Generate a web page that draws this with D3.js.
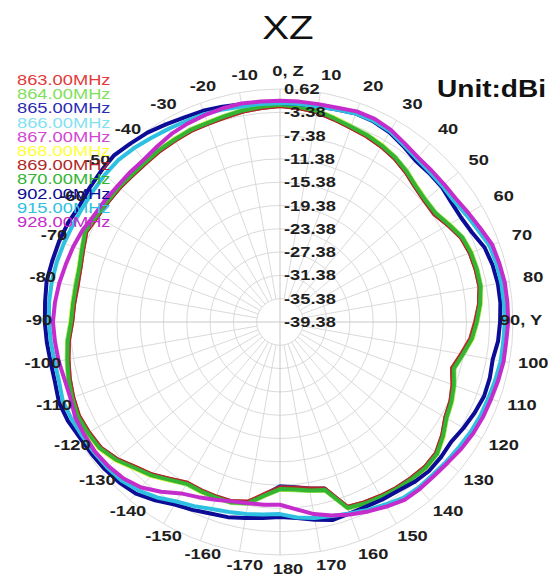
<!DOCTYPE html>
<html>
<head>
<meta charset="utf-8">
<script src="https://cdn.jsdelivr.net/npm/d3@7"></script>
<style>
  body { margin: 0; background: #fff; }
  text { font-family: "Liberation Sans", Arial, sans-serif; }
</style>
</head>
<body>
<div id="chart"></div>
<script>
// angles (deg, 0 = Z at top, clockwise) shared by every trace
var angles = d3.range(-180, 180, 5);

var freqs = ["863.00MHz", "864.00MHz", "865.00MHz", "866.00MHz", "867.00MHz", "868.00MHz",
             "869.00MHz", "870.00MHz", "902.00MHz", "915.00MHz", "928.00MHz"];
var colors = ["#e23a3a", "#7fe05c", "#2c2cb0", "#84e2f0", "#d247d2", "#ffff3c",
              "#b02828", "#33b533", "#0c0c96", "#2ec0e0", "#c42ccc"];

// gain in dBi, one value per angle
var g863 = [-11.0,-9.8,-8.0,-7.5,-7.4,-7.4,-7.5,-6.5,-5.2,-4.2,-2.8,-1.8,-1.5,-1.3,-1.6,-2.0,-2.5,-3.0,-3.7,-3.9,-4.0,-3.9,-3.4,-2.7,-3.2,-3.3,-3.5,-3.6,-3.6,-3.5,-3.3,-3.2,-3.1,-3.0,-2.7,-2.5,-2.3,-2.5,-2.8,-3.4,-3.9,-4.2,-4.6,-5.1,-5.8,-6.6,-7.0,-7.0,-6.1,-5.1,-4.7,-4.6,-4.6,-5.1,-5.9,-6.6,-7.8,-8.8,-7.9,-7.1,-6.6,-5.4,-4.4,-4.2,-4.4,-4.6,-4.9,-5.2,-5.6,-9.7,-10.4,-10.9];
var g864 = [-10.6,-9.4,-7.7,-7.2,-7.2,-7.2,-7.2,-6.2,-4.9,-3.9,-2.5,-1.5,-1.2,-1.0,-1.3,-1.7,-2.2,-2.7,-3.4,-3.6,-3.7,-3.6,-3.1,-2.4,-2.9,-3.1,-3.2,-3.4,-3.4,-3.2,-3.1,-2.9,-2.9,-2.7,-2.4,-2.2,-2.0,-2.2,-2.5,-3.1,-3.6,-3.9,-4.3,-4.8,-5.5,-6.3,-6.7,-6.7,-5.8,-4.8,-4.4,-4.3,-4.3,-4.8,-5.5,-6.2,-7.4,-8.4,-7.5,-6.8,-6.3,-5.1,-4.1,-3.9,-4.1,-4.3,-4.6,-4.9,-5.3,-9.4,-9.9,-10.4];
var g865 = [-11.2,-9.6,-7.9,-7.4,-7.2,-7.3,-7.4,-6.4,-5.1,-4.1,-2.7,-1.7,-1.4,-1.2,-1.5,-1.9,-2.4,-2.9,-3.6,-3.8,-3.9,-3.8,-3.3,-2.6,-3.1,-3.3,-3.4,-3.6,-3.6,-3.4,-3.3,-3.1,-3.1,-2.9,-2.6,-2.4,-2.2,-2.4,-2.7,-3.3,-3.8,-4.1,-4.5,-5.0,-5.7,-6.5,-6.9,-6.9,-6.0,-5.0,-4.6,-4.5,-4.5,-5.0,-5.7,-6.4,-7.6,-8.6,-7.7,-7.0,-6.5,-5.3,-4.3,-4.1,-4.3,-4.5,-4.8,-5.1,-5.5,-9.8,-10.3,-10.9];
var g866 = [-10.8,-9.6,-7.8,-7.3,-7.4,-7.3,-7.3,-6.3,-5.0,-4.0,-2.6,-1.7,-1.4,-1.2,-1.4,-1.8,-2.3,-2.9,-3.5,-3.7,-3.9,-3.7,-3.3,-2.6,-3.0,-3.2,-3.4,-3.5,-3.5,-3.4,-3.2,-3.0,-3.0,-2.9,-2.6,-2.3,-2.1,-2.3,-2.7,-3.2,-3.7,-4.1,-4.4,-4.9,-5.7,-6.4,-6.8,-6.9,-5.9,-4.9,-4.5,-4.4,-4.5,-4.9,-5.7,-6.3,-7.5,-8.6,-7.6,-6.9,-6.4,-5.2,-4.3,-4.0,-4.2,-4.4,-4.7,-5.0,-5.4,-9.6,-10.1,-10.6];
var g867 = [-10.9,-9.7,-7.9,-7.4,-7.3,-7.4,-7.4,-6.4,-5.1,-4.1,-2.7,-1.7,-1.4,-1.2,-1.5,-1.9,-2.4,-2.9,-3.6,-3.8,-3.9,-3.8,-3.3,-2.6,-3.1,-3.3,-3.4,-3.6,-3.6,-3.4,-3.3,-3.1,-3.1,-2.9,-2.6,-2.4,-2.2,-2.4,-2.7,-3.3,-3.8,-4.1,-4.5,-5.0,-5.7,-6.5,-6.9,-6.9,-6.0,-5.0,-4.6,-4.5,-4.5,-5.0,-5.7,-6.4,-7.6,-8.6,-7.7,-7.0,-6.5,-5.3,-4.3,-4.1,-4.3,-4.5,-4.8,-5.1,-5.5,-9.7,-10.2,-10.7];
var g868 = [-10.7,-9.5,-7.8,-7.3,-7.3,-7.2,-7.3,-6.2,-4.9,-3.9,-2.5,-1.5,-1.2,-1.1,-1.3,-1.8,-2.3,-2.8,-3.4,-3.6,-3.8,-3.6,-3.2,-2.5,-3.0,-3.1,-3.3,-3.4,-3.5,-3.3,-3.1,-3.0,-2.9,-2.8,-2.5,-2.2,-2.1,-2.2,-2.6,-3.1,-3.7,-4.0,-4.3,-4.9,-5.6,-6.3,-6.8,-6.8,-5.8,-4.9,-4.4,-4.4,-4.4,-4.8,-5.6,-6.2,-7.5,-8.5,-7.6,-6.8,-6.4,-5.1,-4.2,-3.9,-4.2,-4.3,-4.7,-4.9,-5.4,-9.5,-10.0,-10.5];
var g869 = [-11.0,-9.7,-8.1,-7.5,-7.5,-7.5,-7.5,-6.5,-5.2,-4.2,-2.8,-1.8,-1.5,-1.3,-1.6,-2.0,-2.5,-3.0,-3.7,-3.9,-4.1,-3.9,-3.4,-2.7,-3.2,-3.4,-3.5,-3.7,-3.7,-3.5,-3.4,-3.2,-3.2,-3.0,-2.7,-2.5,-2.3,-2.5,-2.8,-3.4,-3.9,-4.2,-4.6,-5.1,-5.8,-6.6,-7.0,-7.1,-6.1,-5.1,-4.7,-4.6,-4.6,-5.1,-5.8,-6.5,-7.7,-8.8,-7.8,-7.1,-6.6,-5.4,-4.4,-4.2,-4.4,-4.6,-4.9,-5.2,-5.6,-9.8,-10.3,-10.8];
var g870 = [-10.7,-9.5,-7.8,-7.3,-7.3,-7.3,-7.3,-6.3,-5.0,-4.0,-2.6,-1.6,-1.3,-1.1,-1.4,-1.8,-2.3,-2.8,-3.5,-3.7,-3.8,-3.7,-3.2,-2.5,-3.0,-3.2,-3.3,-3.5,-3.5,-3.3,-3.2,-3.0,-3.0,-2.8,-2.5,-2.3,-2.1,-2.3,-2.6,-3.2,-3.7,-4.0,-4.4,-4.9,-5.6,-6.4,-6.8,-6.8,-5.9,-4.9,-4.5,-4.4,-4.4,-4.9,-5.6,-6.3,-7.5,-8.5,-7.6,-6.9,-6.4,-5.2,-4.2,-4.0,-4.2,-4.4,-4.7,-5.0,-5.4,-9.5,-10.0,-10.5];
var g902 = [-5.9,-5.6,-5.2,-4.7,-4.4,-3.8,-3.2,-2.0,-0.9,-0.4,-0.1,0.1,0.3,0.8,1.0,0.6,0.6,0.8,1.0,1.1,1.3,1.1,1.0,0.8,0.4,0.6,0.8,1.0,0.6,0.3,-0.2,-0.6,-0.8,-1.1,-1.4,-1.6,-1.8,-1.8,-1.8,-1.6,-1.3,-1.4,-1.8,-2.5,-3.2,-3.2,-3.2,-3.5,-3.5,-3.0,-2.0,-1.6,-1.4,-1.4,-1.6,-1.8,-2.3,-2.1,-2.1,-2.5,-3.0,-3.5,-3.3,-3.2,-3.5,-4.0,-4.2,-4.4,-4.4,-4.2,-4.9,-5.6];
var g915 = [-6.4,-6.2,-5.9,-5.6,-5.2,-4.5,-3.8,-2.6,-1.6,-0.9,-0.6,-0.4,-0.2,0.1,0.3,-0.1,-0.1,0.1,0.3,0.4,0.4,0.3,0.1,-0.1,-0.2,-0.2,-0.1,-0.1,-0.4,-0.8,-1.1,-1.3,-1.4,-1.6,-1.8,-1.8,-1.8,-1.8,-1.8,-1.6,-1.3,-1.3,-1.6,-2.3,-2.8,-3.0,-3.0,-3.0,-2.5,-1.9,-1.1,-0.9,-0.8,-0.8,-0.8,-0.9,-0.9,-1.1,-1.3,-1.4,-1.6,-1.9,-2.1,-2.3,-2.3,-2.5,-3.2,-3.8,-4.4,-4.9,-5.2,-5.7];
var g928 = [-8.0,-7.9,-7.8,-7.5,-6.9,-6.2,-5.4,-3.8,-2.3,-1.4,-0.9,-0.6,-0.6,-0.6,-1.1,-1.1,-0.8,-0.6,-0.4,-0.6,-0.9,-1.3,-1.6,-2.0,-2.6,-2.8,-3.0,-3.0,-3.0,-2.6,-2.1,-1.8,-1.6,-1.4,-1.3,-1.4,-1.4,-1.4,-1.4,-1.3,-0.9,-0.9,-1.3,-2.0,-2.5,-2.6,-2.6,-2.5,-2.0,-1.4,-0.6,-0.4,-0.2,-0.2,-0.2,-0.4,-0.4,-0.6,-0.8,-0.9,-1.1,-1.4,-1.8,-2.0,-2.0,-2.1,-2.8,-3.5,-4.2,-5.0,-5.9,-7.1];

var series = [g863, g864, g865, g866, g867, g868, g869, g870, g902, g915, g928];

var ringValues = [0.62, -3.38, -7.38, -11.38, -15.38, -19.38, -23.38, -27.38, -31.38, -35.38, -39.38];
var angleTicks = d3.range(-170, 190, 10);

var width = 548, height = 578;
var cx = 280, cy = 322, outer = 233;
var stretch = 1.22;

var svg = d3.select("#chart").append("svg")
    .attr("width", width)
    .attr("height", height);

var r = d3.scaleLinear().domain([-39.38, 0.62]).range([0, outer]);

var plot = svg.append("g").attr("transform", "translate(" + cx + "," + cy + ")");

// rings
plot.selectAll(".ring")
    .data(ringValues.slice(0, -1))
  .enter().append("circle")
    .attr("r", function(d) { return r(d); })
    .attr("fill", "none")
    .attr("stroke", "#dadada")
    .attr("stroke-width", 1);

// spokes every 10 deg
plot.selectAll(".spoke")
    .data(d3.range(0, 360, 10))
  .enter().append("line")
    .attr("x1", function(d) { return (d % 90 == 0 ? 0 : r(-35.38)) * Math.sin(d * Math.PI / 180); })
    .attr("y1", function(d) { return -(d % 90 == 0 ? 0 : r(-35.38)) * Math.cos(d * Math.PI / 180); })
    .attr("x2", function(d) { return outer * Math.sin(d * Math.PI / 180); })
    .attr("y2", function(d) { return -outer * Math.cos(d * Math.PI / 180); })
    .attr("stroke", function(d) { return d % 90 == 0 ? "#c8c8c8" : "#dadada"; })
    .attr("stroke-width", 1);

// ring labels
svg.selectAll(".rlab")
    .data(ringValues)
  .enter().append("text")
    .attr("transform", function(d) { return "translate(" + (cx + 4) + "," + (cy - r(d) + 5) + ") scale(" + stretch + ",1)"; })
    .attr("font-size", 15)
    .attr("font-weight", "bold")
    .attr("fill", "#1e1e1e")
    .text(function(d) { return d.toFixed(2); });

// angle labels
var lcx = 288, lcy = 320, lr = 249;
svg.selectAll(".alab")
    .data(angleTicks)
  .enter().append("text")
    .attr("transform", function(d) {
      var a = d * Math.PI / 180;
      var x = lcx + lr * Math.sin(a), y = lcy - lr * Math.cos(a) + 5;
      if (d == 90) x = 521;
      return "translate(" + x + "," + y + ") scale(" + stretch + ",1)";
    })
    .attr("text-anchor", "middle")
    .attr("font-size", 15)
    .attr("font-weight", "bold")
    .attr("fill", "#1e1e1e")
    .text(function(d) { return d == 0 ? "0, Z" : d == 90 ? "90, Y" : d; });

// legend
svg.selectAll(".leg")
    .data(freqs)
  .enter().append("text")
    .attr("transform", function(d, i) { return "translate(17," + (85 + i * 14.2) + ") scale(" + stretch + ",1)"; })
    .attr("font-size", 15)
    .attr("fill", function(d, i) { return colors[i]; })
    .text(function(d) { return d; });

// title + unit
svg.append("text")
    .attr("transform", "translate(288,39) scale(" + stretch + ",1)")
    .attr("text-anchor", "middle")
    .attr("font-size", 33)
    .attr("fill", "#111")
    .text("XZ");

svg.append("text")
    .attr("transform", "translate(437,97) scale(" + stretch + ",1)")
    .attr("font-size", 23)
    .attr("font-weight", "bold")
    .attr("fill", "#111")
    .text("Unit:dBi");

// traces
var line = d3.lineRadial()
    .angle(function(d) { return d[0] * Math.PI / 180; })
    .radius(function(d) { return r(d[1]); })
    .curve(d3.curveLinearClosed);

plot.selectAll(".trace")
    .data(series)
  .enter().append("path")
    .attr("d", function(vals) { return line(angles.map(function(a, i) { return [a, vals[i]]; })); })
    .attr("fill", "none")
    .attr("stroke", function(d, i) { return colors[i]; })
    .attr("stroke-width", 4)
    .attr("stroke-linejoin", "round");
</script>
</body>
</html>
